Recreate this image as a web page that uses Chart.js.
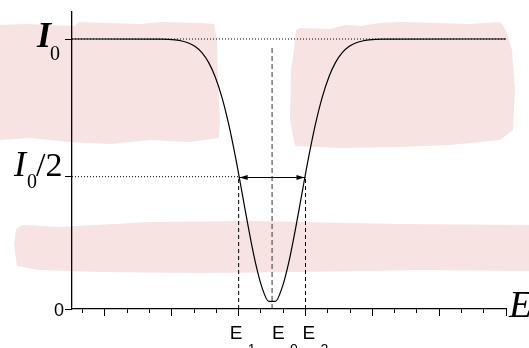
<!DOCTYPE html>
<html>
<head>
<meta charset="utf-8">
<script src="https://cdn.jsdelivr.net/npm/chart.js@4"></script>
<style>
  html, body { margin: 0; padding: 0; background: #fff; }
  #wrap { width: 529px; height: 348px; position: relative; }
</style>
</head>
<body>
<div id="wrap"><canvas id="dipChart"></canvas></div>
<script>
// DATA
const energy = [0.52, 4.55, 4.85, 5.15, 5.45, 5.75, 6.05, 6.35, 6.65, 6.95, 7.25, 7.55, 7.85, 8.15, 8.45, 8.75, 9.05, 9.35,
  9.65, 9.95, 10.25, 10.55, 10.85, 11.15, 11.45, 11.75, 12.05, 12.35, 12.65, 12.95, 13.25, 13.55, 13.85, 14.15, 14.45, 20];
const intensity = [1.0, 0.9993, 0.9985, 0.9965, 0.9927, 0.9853, 0.9719, 0.9493, 0.9133, 0.8594, 0.7839, 0.6854, 0.5658, 0.4321, 0.2961, 0.1730, 0.0793, 0.0285,
  0.0285, 0.0793, 0.1730, 0.2961, 0.4321, 0.5658, 0.6854, 0.7839, 0.8594, 0.9133, 0.9493, 0.9719, 0.9853, 0.9927, 0.9965, 0.9985, 0.9993, 1.0];

const xRange = [0.52, 20];
const yRange = [0, 1.1];
const minorTicks = [1, 2, 3, 4, 5, 6, 7, 8, 9, 10, 11, 12, 13, 14, 15, 16, 17, 18, 19, 20];
const majorTicks = [2, 5, 8, 11, 14, 17, 20];
const yTicks = [0, 0.49, 1];

const levelI0 = 1;
const levelHalf = 0.49;
const arrowLevel = 0.487;
const e0Top = 0.978;
const E1 = 8, E0 = 9.5, E2 = 11;

const pts = (xs, ys) => xs.map((x, i) => ({ x: x, y: ys[i] }));

// pink watermark blobs behind the plot
const pinkBlobs = [
  [[0,25],[25,24],[75,26],[78,22],[140,24],[160,22],[200,23],[214,24],[217,40],[218,80],[220,120],[219,138],[190,142],[150,140],[110,144],[70,142],[30,138],[0,140]],
  [[296,30],[300,28],[330,29],[345,25],[360,26],[380,23],[400,22],[440,23],[470,24],[500,22],[506,30],[512,50],[515,90],[513,130],[500,140],[450,145],[400,147],[340,148],[295,146],[290,120],[291,70],[294,50]],
  [[22,225],[60,227],[150,222],[250,221],[300,222],[400,224],[529,225],[529,271],[420,270],[300,272],[200,273],[100,272],[40,270],[17,266],[14,245],[16,229]]
];

const backdrop = {
  id: 'backdrop',
  beforeDraw(chart) {
    const ctx = chart.ctx;
    ctx.save();
    ctx.fillStyle = 'rgb(248,227,227)';
    pinkBlobs.forEach(poly => {
      ctx.beginPath();
      poly.forEach((p, i) => i ? ctx.lineTo(p[0], p[1]) : ctx.moveTo(p[0], p[1]));
      ctx.closePath();
      ctx.fill();
    });
    ctx.restore();
  }
};

// labels with subscripts + arrow heads
const annotate = {
  id: 'annotate',
  afterDraw(chart) {
    const ctx = chart.ctx;
    const xs = chart.scales.x, ys = chart.scales.y;
    const serif = '"Liberation Serif", "Times New Roman", serif';
    const sans = '"Liberation Sans", Arial, sans-serif';
    ctx.save();
    ctx.fillStyle = '#000';
    ctx.textBaseline = 'alphabetic';
    ctx.textAlign = 'left';

    // arrow heads
    const ay = ys.getPixelForValue(arrowLevel);
    const l = xs.getPixelForValue(E1) + 1, r = xs.getPixelForValue(E2) - 1;
    ctx.beginPath();
    ctx.moveTo(l, ay); ctx.lineTo(l + 8, ay - 2.5); ctx.lineTo(l + 8, ay + 2.5); ctx.closePath();
    ctx.moveTo(r, ay); ctx.lineTo(r - 8, ay - 2.5); ctx.lineTo(r - 8, ay + 2.5); ctx.closePath();
    ctx.fill();

    // I0
    const y1 = ys.getPixelForValue(levelI0);
    ctx.font = 'italic bold 36px ' + serif;
    ctx.fillText('I', 37, y1 + 8);
    ctx.font = '20px ' + serif;
    ctx.fillText('0', 50, y1 + 21);

    // I0/2
    const yh = ys.getPixelForValue(levelHalf);
    ctx.font = 'italic 36px ' + serif;
    ctx.fillText('I', 14, yh - 1);
    ctx.font = '20px ' + serif;
    ctx.fillText('0', 27, yh + 11);
    ctx.font = '34px ' + serif;
    ctx.fillText('/2', 36, yh - 1);

    // 0 tick label
    const y0 = ys.getPixelForValue(0);
    ctx.font = '18px ' + sans;
    ctx.textAlign = 'right';
    ctx.fillText('0', 64, y0 + 7);
    ctx.textAlign = 'left';

    // axis title E
    ctx.font = 'italic 38px ' + serif;
    ctx.fillText('E', 509, y0 + 8);

    // E1, E0, E2
    const eLabels = [[E1, -9, '1'], [E0, 0, '0'], [E2, -3, '2']];
    eLabels.forEach(([v, dx, sub]) => {
      const px = xs.getPixelForValue(v) + dx;
      ctx.font = '19px ' + sans;
      ctx.fillText('E', px, 339);
      ctx.font = '14px ' + sans;
      ctx.fillText(sub, px + 18, 354);
    });
    ctx.restore();
  }
};

const ctx = document.getElementById('dipChart');
new Chart(ctx, {
  type: 'scatter',
  data: {
    datasets: [
      { data: pts(energy, intensity), showLine: true, borderColor: '#000', borderWidth: 1.2, pointRadius: 0, cubicInterpolationMode: 'monotone' },
      { data: pts([xRange[0], xRange[1]], [levelI0, levelI0]), showLine: true, borderColor: '#000', borderWidth: 1, borderDash: [1, 2], pointRadius: 0 },
      { data: pts([xRange[0], E1], [levelHalf, levelHalf]), showLine: true, borderColor: '#000', borderWidth: 1, borderDash: [1, 2], pointRadius: 0 },
      { data: pts([E1, E1], [0, levelHalf]), showLine: true, borderColor: '#000', borderWidth: 1, borderDash: [4, 3], pointRadius: 0 },
      { data: pts([E2, E2], [0, levelHalf]), showLine: true, borderColor: '#000', borderWidth: 1, borderDash: [4, 3], pointRadius: 0 },
      { data: pts([E0, E0], [0, e0Top]), showLine: true, borderColor: '#333', borderWidth: 1, borderDash: [5, 3], pointRadius: 0 },
      { data: pts([E1, E2], [arrowLevel, arrowLevel]), showLine: true, borderColor: '#000', borderWidth: 1, pointRadius: 0 }
    ]
  },
  options: {
    responsive: true,
    maintainAspectRatio: false,
    animation: false,
    layout: { padding: { left: 72, right: 23, top: 12, bottom: 39 } },
    plugins: { legend: { display: false }, tooltip: { enabled: false } },
    scales: {
      x: {
        type: 'linear', position: 'bottom', weight: 0,
        min: xRange[0], max: xRange[1],
        afterBuildTicks: s => { s.ticks = minorTicks.map(v => ({ value: v })); },
        afterFit: s => { s.height = 0; },
        ticks: { display: false },
        grid: { drawOnChartArea: false, drawTicks: true, tickLength: 4, tickColor: '#000', tickWidth: 1 },
        border: { display: true, color: '#000', width: 1.3 }
      },
      xMajor: {
        type: 'linear', position: 'bottom', weight: 1,
        min: xRange[0], max: xRange[1],
        afterBuildTicks: s => { s.ticks = majorTicks.map(v => ({ value: v })); },
        afterFit: s => { s.height = 0; },
        ticks: { display: false },
        grid: { drawOnChartArea: false, drawTicks: true, tickLength: 7, tickColor: '#000', tickWidth: 1 },
        border: { display: false }
      },
      y: {
        type: 'linear', position: 'left',
        min: yRange[0], max: yRange[1],
        afterBuildTicks: s => { s.ticks = yTicks.map(v => ({ value: v })); },
        afterFit: s => { s.width = 0; },
        ticks: { display: false },
        grid: { drawOnChartArea: false, drawTicks: true, tickLength: 7, tickColor: '#000', tickWidth: 1 },
        border: { display: true, color: '#000', width: 1.3 }
      }
    }
  },
  plugins: [backdrop, annotate]
});
</script>
</body>
</html>
